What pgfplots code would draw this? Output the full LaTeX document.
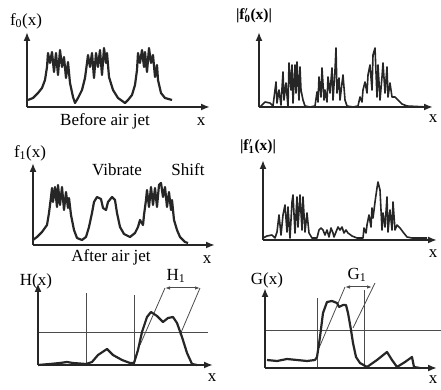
\documentclass[border=0pt]{standalone}
\usepackage{fontspec}
\setmainfont{Liberation Serif}
\usepackage{pgfplots}
\pgfplotsset{compat=1.18}
\usetikzlibrary{arrows.meta}
\newcommand\lab{\fontsize{17}{19}\selectfont}
\newcommand\slab{\fontsize{15.5}{17}\selectfont\bfseries}
\pgfplotsset{panel/.style={scale only axis, axis lines=none, xtick=\empty, ytick=\empty,
  xmin=0, ymin=0, clip=false, anchor=south west,
  cycle list={{black!85, line width=2.2pt, line join=round, mark=none}}},
  axisarrow/.style={black!85, line width=2pt, mark=none, -{Latex[length=9pt,width=7pt]}},
  mainline/.style={black!85, line width=2.2pt, line join=round, mark=none},
  spikes/.style={black!85, line width=1.6pt, line join=round, mark=none},
  guide/.style={line width=0.8pt, black!70, mark=none}}
\begin{document}
\begin{tikzpicture}
\path[use as bounding box] (0,0) rectangle (441pt,390pt);
% ---------- panel 1: f0(x)
\begin{axis}[panel, at={(27pt,283pt)}, width=183pt, height=75pt, xmax=183, ymax=75]
\addplot[axisarrow] coordinates {(0,0)(183,0)};
\addplot[axisarrow] coordinates {(0,0)(0,75)};
\addplot[mainline] coordinates {(1,7)(6,9)(11,14)(15,19)(18,27)(20,40)(21,54)(23,44)(25,55)(27,35)(29,54)(31,32)(33,57)(35,40)(37,50)(39,29)(41,45)(43,24)(46,10)(48,4)
(51,9)(55,17)(58,29)(60,44)(61,52)(63,40)(65,54)(67,29)(69,54)(71,40)(73,57)(75,32)(77,59)(79,44)(80,54)(82,30)(86,17)(91,9)(98,4)
(101,7)(105,12)(108,22)(110,37)(111,54)(113,44)(115,57)(117,40)(118,55)(120,35)(122,59)(124,44)(126,52)(128,30)(130,42)(131,27)(134,14)(138,9)(145,7)};
\node[font=\lab] at (axis cs:-1,86) {f\textsubscript{0}(x)};
\node[font=\lab] at (axis cs:78,-14) {Before air jet};
\node[font=\lab] at (axis cs:174,-15) {x};
\end{axis}
% ---------- panel 2: |f0'(x)|
\begin{axis}[panel, at={(259pt,283pt)}, width=174pt, height=75pt, xmax=174, ymax=75]
\addplot[axisarrow] coordinates {(0,0)(174,0)};
\addplot[axisarrow] coordinates {(0,0)(0,75)};
\addplot[spikes] coordinates {(1,0)(3,2)(6,5)(11,4)(14,1)(17,25)(18,4)(20,17)(22,2)(24,35)(25,7)(27,24)(29,0)(30,44)(32,17)(33,42)(34,4)(36,42)(37,14)(38,45)(40,7)(41,40)(42,17)(44,7)(46,1)(51,0)
(56,1)(58,15)(59,5)(60,30)(62,10)(63,39)(65,7)(66,17)(68,5)(69,30)(71,14)(73,39)(74,7)(76,37)(77,59)(78,14)(80,29)(81,7)(83,24)(84,32)(86,7)(88,1)(94,0)
(99,1)(101,10)(103,5)(104,17)(106,25)(108,14)(109,32)(111,42)(113,17)(114,52)(116,59)(118,10)(119,42)(121,7)(123,30)(124,44)(126,14)(128,40)(129,10)(131,24)(133,10)(136,10)(139,7)(143,3)(148,1)(168,0)};
\node[font=\slab] at (axis cs:-5,91) {|f\rlap{\textsuperscript{$\prime$}}\textsubscript{0}(x)|};
\node[font=\lab] at (axis cs:174,-12) {x};
\end{axis}
% ---------- panel 3: f1(x)
\begin{axis}[panel, at={(33pt,145pt)}, width=182pt, height=82pt, xmax=182, ymax=82]
\addplot[axisarrow] coordinates {(0,0)(182,0)};
\addplot[axisarrow] coordinates {(0,0)(0,82)};
\addplot[mainline] coordinates {(0,5)(4,8)(9,13)(14,20)(16,32)(18,48)(19,57)(20,43)(22,58)(24,38)(25,60)(27,40)(29,58)(31,35)(33,53)(35,37)(36,47)(38,30)(41,15)(44,7)(49,5)
(53,8)(56,18)(59,32)(61,43)(64,48)(68,46)(70,37)(73,35)(75,43)(79,48)(82,45)(84,32)(87,18)(91,11)(97,8)
(102,12)(105,18)(107,25)(110,20)(111,30)(113,45)(114,55)(116,38)(118,58)(120,40)(122,57)(124,38)(126,60)(128,62)(130,48)(132,58)(134,38)(136,53)(138,35)(139,45)(141,25)(144,15)(147,8)(152,3)(155,2)};
\node[font=\lab] at (axis cs:-3,92) {f\textsubscript{1}(x)};
\node[font=\lab] at (axis cs:84,75) {Vibrate};
\node[font=\lab] at (axis cs:155,75) {Shift};
\node[font=\lab] at (axis cs:78,-12) {After air jet};
\node[font=\lab] at (axis cs:174,-15) {x};
\end{axis}
% ---------- panel 4: |f1'(x)|
\begin{axis}[panel, at={(263pt,150pt)}, width=174pt, height=80pt, xmax=174, ymax=80]
\addplot[axisarrow] coordinates {(0,0)(174,0)};
\addplot[axisarrow] coordinates {(0,0)(0,80)};
\addplot[spikes] coordinates {(0,2)(4,4)(9,5)(12,2)(14,8)(16,25)(18,5)(20,25)(22,35)(24,8)(25,33)(27,2)(29,38)(30,45)(32,7)(34,43)(35,13)(37,45)(39,10)(40,43)(42,8)(44,27)(46,7)(49,2)
(54,2)(56,10)(58,12)(60,10)(62,5)(64,10)(66,3)(68,12)(70,7)(71,3)(73,8)(75,13)(77,10)(79,13)(81,7)(83,10)(85,7)(89,4)(94,2)
(100,2)(101,12)(103,7)(104,15)(106,25)(108,13)(109,32)(110,22)(112,38)(114,52)(115,58)(117,50)(119,10)(120,27)(122,13)(124,43)(125,8)(127,30)(129,10)(130,38)(132,10)(134,15)(137,12)(140,8)(144,3)(149,2)(164,2)};
\node[font=\slab] at (axis cs:-5,93) {|f\rlap{\textsuperscript{$\prime$}}\textsubscript{1}(x)|};
\node[font=\lab] at (axis cs:170,-14) {x};
\end{axis}
% ---------- panel 5: H(x)
\begin{axis}[panel, at={(38pt,25pt)}, width=175pt, height=82pt, xmax=175, ymax=82]
\addplot[guide] coordinates {(48,0)(48,72)};
\addplot[guide] coordinates {(96,0)(96,70)};
\addplot[guide] coordinates {(0,33)(170,33)};
\addplot[guide] coordinates {(102,20)(127,77)};
\addplot[guide] coordinates {(142,30)(162,77)};
\addplot[guide, line width=1pt, {Latex[length=5pt,width=3.5pt]}-{Latex[length=5pt,width=3.5pt]}] coordinates {(127,77)(162,77)};
\addplot[axisarrow] coordinates {(0,0)(175,0)};
\addplot[axisarrow] coordinates {(0,0)(0,82)};
\addplot[mainline] coordinates {(0,0)(12,1)(22,2)(29,3)(35,2)(48,1)(54,3)(60,10)(69,16)(75,10)(84,5)(92,2)(96,2)(100,15)(104,33)(109,48)(113,53)(119,49)(125,43)(130,47)(135,48)(139,42)(144,28)(149,12)(154,1)(159,0)};
\node[font=\lab] at (axis cs:-2,84) {H(x)};
\node[font=\lab] at (axis cs:138,89) {H\textsubscript{1}};
\node[font=\lab] at (axis cs:174,-13) {x};
\end{axis}
% ---------- panel 6: G(x)
\begin{axis}[panel, at={(265pt,22pt)}, width=172pt, height=80pt, xmax=172, ymax=80]
\addplot[guide] coordinates {(52,0)(52,70)};
\addplot[guide] coordinates {(99,0)(99,78)};
\addplot[guide] coordinates {(0,38)(176,38)};
\addplot[guide] coordinates {(54,20)(80,81)};
\addplot[guide] coordinates {(88,40)(110,85)};
\addplot[guide, line width=1pt, {Latex[length=5pt,width=3.5pt]}-{Latex[length=5pt,width=3.5pt]}] coordinates {(80,81)(107,81)};
\addplot[axisarrow] coordinates {(0,0)(172,0)};
\addplot[axisarrow] coordinates {(0,0)(0,80)};
\addplot[mainline] coordinates {(2,8)(12,7)(22,9)(32,8)(42,7)(50,8)(52,11)(55,31)(58,55)(62,66)(67,67)(72,65)(74,61)(78,63)(81,63)(83,55)(86,38)(88,25)(91,11)(95,5)(102,1)(112,8)(122,16)(127,8)(132,1)(140,6)(147,11)(149,1)(155,0)};
\node[font=\lab] at (axis cs:2,88) {G(x)};
\node[font=\lab] at (axis cs:92,93) {G\textsubscript{1}};
\node[font=\lab] at (axis cs:168,-12) {x};
\end{axis}
\end{tikzpicture}
\end{document}
